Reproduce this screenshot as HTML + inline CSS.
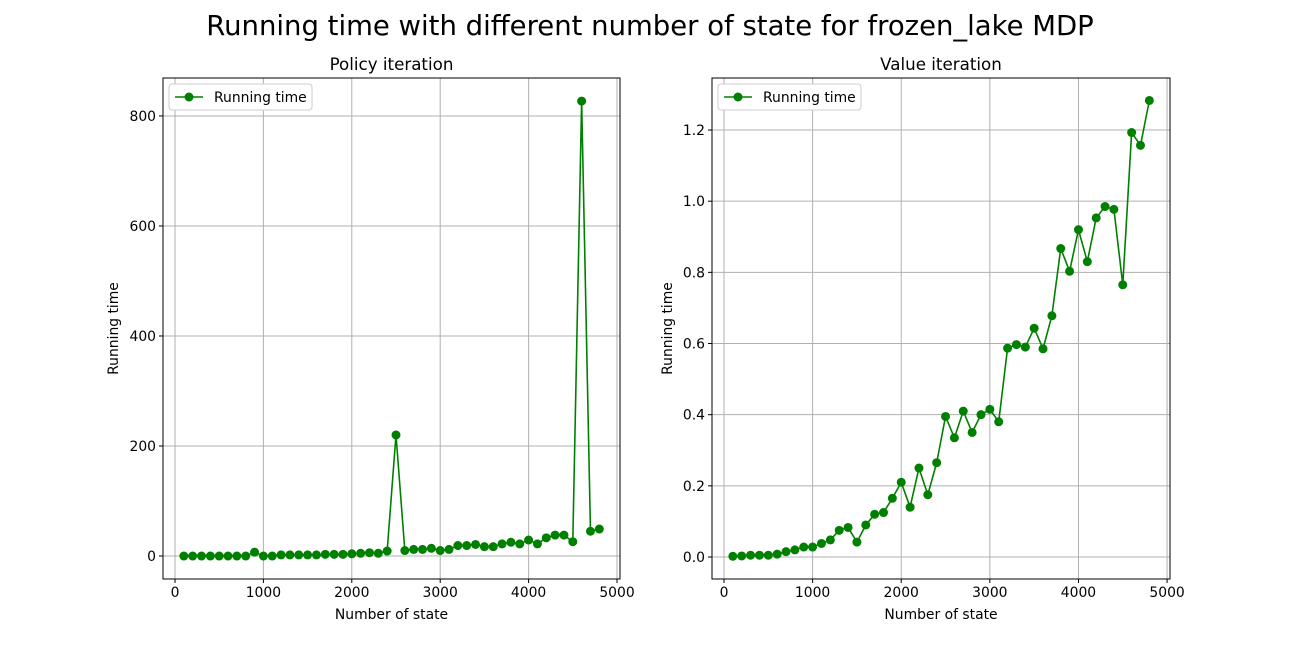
<!DOCTYPE html>
<html><head><meta charset="utf-8"><style>
body{margin:0;background:#fff;}
svg text{font-family:"DejaVu Sans","Liberation Sans",sans-serif;fill:#000;}
</style></head><body>
<svg id="chart" width="1300" height="650" xmlns="http://www.w3.org/2000/svg">
<text x="650" y="35" text-anchor="middle" font-size="27.5">Running time with different number of state for frozen_lake MDP</text>
</svg>
<script>
const states = [];
for (let s = 100; s <= 4800; s += 100) states.push(s);
const policyTimes = [0,0,0,0,0,0,0,0,7,0,0,2,2,2,2,2,3,3,3,4,5,6,5,9,220,10,12,12,14,10,12,19,19,21,17,17,22,25,22,29,22,33,38,38,26,827,45,49];
const valueTimes = [0.002,0.003,0.005,0.005,0.005,0.008,0.015,0.02,0.028,0.028,0.038,0.048,0.075,0.083,0.042,0.09,0.12,0.125,0.165,0.21,0.14,0.25,0.175,0.265,0.395,0.335,0.41,0.35,0.40,0.415,0.38,0.587,0.597,0.59,0.643,0.585,0.678,0.867,0.803,0.92,0.83,0.953,0.985,0.977,0.765,1.193,1.157,1.283];
const xTicks = [0,1000,2000,3000,4000,5000];
const policyYTicks = [0,200,400,600,800];
const valueYTicks = [0.0,0.2,0.4,0.6,0.8,1.0,1.2];
const svg = document.getElementById('chart');
const NS = 'http://www.w3.org/2000/svg';
function mk(tag, attrs, parent){const e=document.createElementNS(NS,tag);for(const k in attrs)e.setAttribute(k,attrs[k]);(parent||svg).appendChild(e);return e;}
function panel(cfg){
  const g = mk('g',{});
  
  
  const sx = v => cfg.x0 + (v - cfg.xmin) / (cfg.xmax - cfg.xmin) * (cfg.x1 - cfg.x0);
  const sy = v => cfg.y1 - (v - cfg.ymin) / (cfg.ymax - cfg.ymin) * (cfg.y1 - cfg.y0);
  xTicks.forEach(t => {
    const x = sx(t);
    const l = mk('line',{x1:x,x2:x,y1:cfg.y0,y2:cfg.y1,stroke:'#b0b0b0','stroke-width':1},g);
     
    mk('line',{x1:x,x2:x,y1:cfg.y1,y2:cfg.y1+4,stroke:'#000'},g);
    const tx = mk('text',{x:x,y:cfg.y1+18,'text-anchor':'middle','font-size':13.9},g);
    tx.textContent = t;
     
  });
  cfg.yTicks.forEach(t => {
    const y = sy(t);
    const l = mk('line',{x1:cfg.x0,x2:cfg.x1,y1:y,y2:y,stroke:'#b0b0b0','stroke-width':1},g);
     
    mk('line',{x1:cfg.x0-4,x2:cfg.x0,y1:y,y2:y,stroke:'#000'},g);
    const tx = mk('text',{x:cfg.x0-7,y:y+5,'text-anchor':'end','font-size':13.9},g);
    tx.textContent = cfg.fmt(t);
     
  });
  const pts = states.map((s,i)=>sx(s)+','+sy(cfg.data[i])).join(' ');
  const line = mk('polyline',{points:pts,fill:'none',stroke:'#008000','stroke-width':1.6},g);
   
  states.forEach((s,i)=>{
    const c = mk('circle',{cx:sx(s),cy:sy(cfg.data[i]),r:4.5,fill:'#008000'},g);
     
  });
  const frame = mk('rect',{x:cfg.x0,y:cfg.y0,width:cfg.x1-cfg.x0,height:cfg.y1-cfg.y0,fill:'none',stroke:'#000','stroke-width':1},g);
   
  const title = mk('text',{x:(cfg.x0+cfg.x1)/2,y:cfg.y0-8,'text-anchor':'middle','font-size':16.7},g);
  title.textContent = cfg.title;
   
  const xl = mk('text',{x:(cfg.x0+cfg.x1)/2,y:cfg.y1+40,'text-anchor':'middle','font-size':13.9},g);
  xl.textContent = 'Number of state';
   
  const yx = cfg.ylabelX, yy = (cfg.y0+cfg.y1)/2;
  const yl = mk('text',{x:yx,y:yy,'text-anchor':'middle','font-size':13.9,transform:'rotate(-90 '+yx+' '+yy+')'},g);
  yl.textContent = 'Running time';
   
  const lg = mk('g',{},g);
   
  mk('rect',{x:cfg.x0+6,y:cfg.y0+6,width:143,height:26,rx:3,fill:'#fff',stroke:'#ccc'},lg);
  mk('line',{x1:cfg.x0+12,x2:cfg.x0+40,y1:cfg.y0+19,y2:cfg.y0+19,stroke:'#008000','stroke-width':1.6},lg);
  mk('circle',{cx:cfg.x0+26,cy:cfg.y0+19,r:4.5,fill:'#008000'},lg);
  const lt = mk('text',{x:cfg.x0+51,y:cfg.y0+24,'font-size':13.9},lg);
  lt.textContent = 'Running time';
   
}
panel({name:'policy-iteration-chart',title:'Policy iteration',data:policyTimes,yTicks:policyYTicks,fmt:t=>String(t),
  x0:163,x1:620,y0:78,y1:579,xmin:-135.7,xmax:5034,ymin:-41.8,ymax:869,ylabelX:118});
panel({name:'value-iteration-chart',title:'Value iteration',data:valueTimes,yTicks:valueYTicks,fmt:t=>t.toFixed(1),
  x0:712,x1:1170,y0:78,y1:579,xmin:-135.4,xmax:5033,ymin:-0.0618,ymax:1.3462,ylabelX:672});
</script>
</body></html>
